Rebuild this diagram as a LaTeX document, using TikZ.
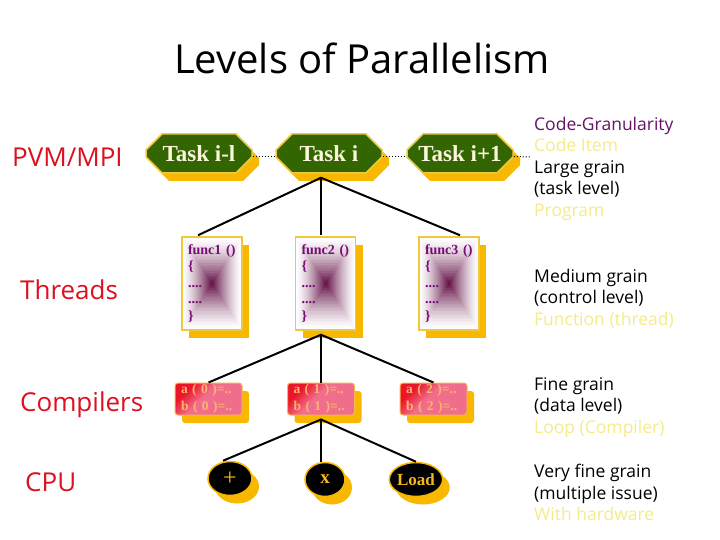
\documentclass[tikz,border=0pt]{standalone}
\usepackage{fontspec}
\setmainfont{Liberation Serif}
\newfontfamily\comic{Open Sans}
\usetikzlibrary{shapes.misc,shapes.geometric,calc,shadows}

\definecolor{shadowY}{RGB}{248,184,0}
\definecolor{borderY}{RGB}{240,200,64}
\definecolor{taskG}{RGB}{51,102,0}
\definecolor{taskT}{RGB}{250,245,220}
\definecolor{labelR}{RGB}{220,16,32}
\definecolor{funcP}{RGB}{122,10,122}
\definecolor{funcC}{RGB}{95,10,65}
\definecolor{aRed}{RGB}{235,20,40}
\definecolor{aPink}{RGB}{240,110,140}
\definecolor{aBorder}{RGB}{250,180,80}
\definecolor{aText}{RGB}{250,180,110}
\definecolor{paleY}{RGB}{245,235,140}
\definecolor{granP}{RGB}{100,20,100}
\definecolor{cpuT}{RGB}{245,185,30}

\pgfdeclareverticalshading{ashade}{100bp}{color(0bp)=(aPink); color(55bp)=(aPink); color(72bp)=(aRed); color(100bp)=(aRed)}

\tikzset{
  yshadow/.style={drop shadow={fill=shadowY, opacity=1, shadow xshift=7pt, shadow yshift=-8pt}},
  tasknode/.style={chamfered rectangle, chamfered rectangle xsep=8pt, chamfered rectangle ysep=8pt,
    minimum width=106pt, minimum height=39pt, inner sep=0pt,
    fill=taskG, draw=borderY, line width=1.5pt, yshadow,
    text=taskT, font=\bfseries\fontsize{23}{25}\selectfont},
  funcbox/.style={rectangle, minimum width=60pt, minimum height=93pt, inner sep=0pt,
    draw=borderY, line width=1.5pt, fill=white, yshadow,
    text=funcP, font=\bfseries\fontsize{14}{16.5}\selectfont, align=left, text width=48pt,
    path picture={
      \foreach \i in {1,...,29}{
        \pgfmathsetmacro\s{1-\i/30}
        \pgfmathsetmacro\m{100*(1-\s)^1.4}
        \fill[funcC!\m!white]
          ($(path picture bounding box.center)!\s!(path picture bounding box.north east)$)
          rectangle
          ($(path picture bounding box.center)!\s!(path picture bounding box.south west)$);
      }}},
  abox/.style={rectangle, rounded corners=3pt, minimum width=67pt, minimum height=32pt,
    inner sep=0pt, draw=aBorder, line width=1pt, shading=ashade, shading angle=45, yshadow,
    text=aText, font=\bfseries\fontsize{13.5}{16.5}\selectfont, align=left, text width=55pt},
  cpunode/.style={ellipse, inner sep=0pt, minimum height=34pt, fill=black,
    draw=shadowY, line width=1.5pt, yshadow, text=cpuT},
  lvl/.style={anchor=west, inner sep=0pt, text=labelR, font=\comic\fontsize{26}{28}\selectfont},
  gran/.style={anchor=north west, inner sep=0pt, align=left,
    font=\comic\fontsize{17.5}{21.5}\selectfont},
  conn/.style={draw=black, line width=2pt},
  dots/.style={draw=black, dotted, line width=1pt}
}

\begin{document}
\begin{tikzpicture}[x=1pt,y=-1pt]
\useasboundingbox (0,0) rectangle (720,540);
\fill[white] (0,0) rectangle (720,540);

% title
\node[font=\comic\fontsize{40}{44}\selectfont, inner sep=0pt] (title) at (362,58) {Levels of Parallelism};

% level labels
\node[lvl] (l1) at (12,157) {PVM/MPI};
\node[lvl] (l2) at (20,290) {Threads};
\node[lvl] (l3) at (20,405) {Compilers};
\node[lvl] (l4) at (25,482) {CPU};

% tasks
\node[tasknode] (tl) at (199,153.5) {Task i-l};
\node[tasknode] (ti) at (329,153.5) {Task i};
\node[tasknode] (tr) at (460,153.5) {Task i+1};

% functions
\node[funcbox] (f1) at (212,283.5) {func1 ()\\\{\\....\\....\\\}};
\node[funcbox] (f2) at (325.5,283.5) {func2 ()\\\{\\....\\....\\\}};
\node[funcbox] (f3) at (449,283.5) {func3 ()\\\{\\....\\....\\\}};

% data
\node[abox] (a0) at (208.5,399) {a ( 0 )=..\\b ( 0 )=..};
\node[abox] (a1) at (321,399) {a ( 1 )=..\\b ( 1 )=..};
\node[abox] (a2) at (433.5,399) {a ( 2 )=..\\b ( 2 )=..};

% cpu
\node[cpunode, minimum width=44pt, font=\fontsize{24}{24}\selectfont] (c1) at (230,478.5) {+};
\node[cpunode, minimum width=40pt, font=\bfseries\fontsize{19}{19}\selectfont] (c2) at (325,479.5) {x};
\node[cpunode, minimum width=48pt, font=\bfseries\fontsize{17}{17}\selectfont] (c3) at (416,479.5) {Load};

% granularity texts
\node[gran] (g1) at (534,117) {\textcolor{granP}{Code-Granularity}\\\textcolor{paleY}{Code Item}\\Large grain\\(task level)\\\textcolor{paleY}{Program}};
\node[gran] (g2) at (534,269) {Medium grain\\(control level)\\\textcolor{paleY}{Function (thread)}};
\node[gran] (g3) at (534,377) {Fine grain\\(data level)\\\textcolor{paleY}{Loop (Compiler)}};
\node[gran] (g4) at (534,464) {Very fine grain\\(multiple issue)\\\textcolor{paleY}{With hardware}};

% dotted links between tasks
\coordinate (dotend) at (531,157);
\draw[dots] ([yshift=-3pt]tl.east) -- ([yshift=-3pt]ti.west);
\draw[dots] ([yshift=-3pt]ti.east) -- ([yshift=-3pt]tr.west);
\draw[dots] ([yshift=-3pt]tr.east) -- (dotend);

% connectors task -> functions
\coordinate (ap1) at ($(ti.south)+(-8,4)$);
\draw[conn] ($(f1.north)+(-14,-1)$) -- (ap1) -- ($(f3.north)+(11,-1)$);
\draw[conn] (ap1) -- ($(f2.north)+(-4.5,-1)$);

% connectors function -> data
\coordinate (ap2) at ($(f2.south)+(-4.5,4)$);
\draw[conn] (a0.north) -- (ap2) -- (a2.north);
\draw[conn] (ap2) -- (a1.north);

% connectors data -> cpu
\coordinate (ap3) at ($(a1.south)+(0,4)$);
\draw[conn] ($(c1.north)+(-7,0)$) -- (ap3) -- (c3.north);
\draw[conn] (ap3) -- ($(c2.north)+(-4,0)$);
\end{tikzpicture}
\end{document}
